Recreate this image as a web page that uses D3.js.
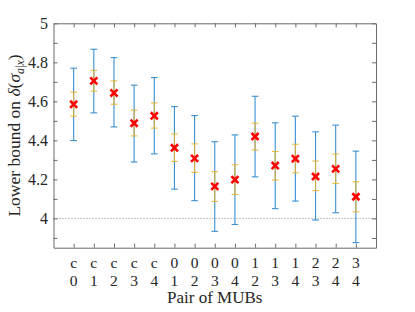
<!DOCTYPE html>
<html>
<head>
<meta charset="utf-8">
<script src="https://cdn.jsdelivr.net/npm/d3@7"></script>
</head>
<body style="margin:0; background:#fff">
<div id="chart"></div>
<script>
// data
const pairTop = ["c", "c", "c", "c", "c", "0", "0", "0", "0", "1", "1", "1", "2", "2", "3"]
const pairBottom = ["0", "1", "2", "3", "4", "1", "2", "3", "4", "2", "3", "4", "3", "4", "4"]
const bound = [4.585, 4.705, 4.643, 4.488, 4.526, 4.362, 4.308, 4.164, 4.199, 4.420, 4.271, 4.306, 4.215, 4.254, 4.111]
const innerLow = [4.524, 4.652, 4.585, 4.423, 4.463, 4.292, 4.236, 4.087, 4.123, 4.350, 4.197, 4.234, 4.143, 4.179, 4.034]
const innerHigh = [4.647, 4.759, 4.705, 4.555, 4.592, 4.433, 4.382, 4.240, 4.275, 4.488, 4.343, 4.380, 4.294, 4.330, 4.188]
const outerLow = [4.399, 4.541, 4.469, 4.289, 4.331, 4.150, 4.091, 3.934, 3.969, 4.213, 4.050, 4.089, 3.992, 4.029, 3.876]
const outerHigh = [4.770, 4.867, 4.824, 4.683, 4.722, 4.573, 4.527, 4.393, 4.428, 4.626, 4.490, 4.524, 4.444, 4.478, 4.345]
const yTicks = [3.9, 4, 4.1, 4.2, 4.3, 4.4, 4.5, 4.6, 4.7, 4.8, 4.9, 5]
const yLabelled = [4, 4.2, 4.4, 4.6, 4.8, 5]
const referenceLine = 4

const dataset = bound.map((v, i) => ({
    idx: i + 1, top: pairTop[i], bottom: pairBottom[i], value: v,
    inLo: innerLow[i], inHi: innerHigh[i], outLo: outerLow[i], outHi: outerHigh[i]
}))

//dimensions
let dimensions = {
    width: 415,
    height: 312,
    margin: {top: 23.3, right: 39, bottom: 64.3, left: 53.5},
}
const innerW = dimensions.width - dimensions.margin.left - dimensions.margin.right
const innerH = dimensions.height - dimensions.margin.top - dimensions.margin.bottom
const serif = "'Liberation Serif'"
const textColor = "#262626"

const svg = d3.select("#chart").append("svg")
    .attr("width", dimensions.width)
    .attr("height", dimensions.height)

//scales
const xScale = d3.scaleLinear().domain([0, 16])
    .range([dimensions.margin.left, dimensions.margin.left + innerW])
const yScale = d3.scaleLinear().domain([3.85, 5])
    .range([dimensions.margin.top + innerH, dimensions.margin.top])

const x0 = xScale.range()[0], x1 = xScale.range()[1]
const y0 = yScale.range()[0], y1 = yScale.range()[1]
const axisColor = "#6b6b6b"

// reference line
svg.append("line")
    .attr("x1", x0).attr("x2", x1)
    .attr("y1", yScale(referenceLine)).attr("y2", yScale(referenceLine))
    .attr("stroke", "#8a8a8a").attr("stroke-width", 1)
    .attr("stroke-dasharray", "1,2")

// axes (ticks pointing inward, box)
const fmt = d => yLabelled.some(t => Math.abs(t - d) < 1e-6) ? String(+d.toFixed(1)) : ""
const leftAxis = svg.append("g")
    .attr("transform", "translate(" + x0 + ",0)")
    .call(d3.axisLeft(yScale).tickValues(yTicks).tickFormat(fmt).tickSizeInner(-4).tickSizeOuter(0).tickPadding(5.5))
const rightAxis = svg.append("g")
    .attr("transform", "translate(" + x1 + ",0)")
    .call(d3.axisRight(yScale).tickValues(yTicks).tickFormat("").tickSizeInner(-4).tickSizeOuter(0))
const bottomAxis = svg.append("g")
    .attr("transform", "translate(0," + y0 + ")")
    .call(d3.axisBottom(xScale).tickValues(dataset.map(d => d.idx)).tickFormat("").tickSizeInner(-4).tickSizeOuter(0))
const topAxis = svg.append("g")
    .attr("transform", "translate(0," + y1 + ")")
    .call(d3.axisTop(xScale).tickValues(dataset.map(d => d.idx)).tickFormat("").tickSizeInner(-4).tickSizeOuter(0))

for (const g of [leftAxis, rightAxis, bottomAxis, topAxis]) {
    g.select(".domain").attr("stroke", axisColor)
    g.selectAll(".tick line").attr("stroke", axisColor)
}
leftAxis.selectAll(".tick text")
    .style("font-family", serif)
    .style("font-size", "16px")
    .attr("fill", textColor)

// two-line category labels
const xLabels = svg.append("g")
xLabels.selectAll("text.top")
    .data(dataset).join("text")
    .attr("class", "top")
    .attr("x", d => xScale(d.idx))
    .attr("y", y0 + 20)
    .attr("text-anchor", "middle")
    .attr("fill", textColor)
    .style("font-family", serif)
    .style("font-size", "15.5px")
    .text(d => d.top)
xLabels.selectAll("text.bottom")
    .data(dataset).join("text")
    .attr("class", "bottom")
    .attr("x", d => xScale(d.idx))
    .attr("y", y0 + 38.5)
    .attr("text-anchor", "middle")
    .attr("fill", textColor)
    .style("font-family", serif)
    .style("font-size", "15.5px")
    .text(d => d.bottom)

// axis titles
svg.append("text")
    .attr("x", (x0 + x1) / 2)
    .attr("y", 303)
    .attr("text-anchor", "middle")
    .attr("fill", textColor)
    .style("font-family", serif)
    .style("font-size", "17px")
    .text("Pair of MUBs")

const yTitle = svg.append("text")
    .attr("transform", "translate(20," + ((y0 + y1) / 2) + ") rotate(-90)")
    .attr("text-anchor", "middle")
    .attr("fill", textColor)
    .style("font-family", serif)
    .style("font-size", "17.5px")
yTitle.append("tspan").text("Lower bound on ")
yTitle.append("tspan").style("font-style", "italic").text("δ")
yTitle.append("tspan").text("(")
yTitle.append("tspan").style("font-style", "italic").text("σ")
yTitle.append("tspan").attr("dy", 4).style("font-size", "12px").style("font-style", "italic").text("a")
yTitle.append("tspan").style("font-size", "12px").text("|")
yTitle.append("tspan").style("font-size", "12px").style("font-style", "italic").text("x")
yTitle.append("tspan").attr("dy", -4).text(")")

// error bars
const cap = 3.3
const bars = svg.append("g")
function drawBars(lo, hi, color, width, opacity) {
    const g = bars.append("g").attr("stroke", color).attr("stroke-width", width).attr("opacity", opacity)
    g.selectAll("line.v").data(dataset).join("line").attr("class", "v")
        .attr("x1", d => xScale(d.idx)).attr("x2", d => xScale(d.idx))
        .attr("y1", d => yScale(lo(d))).attr("y2", d => yScale(hi(d)))
    g.selectAll("line.lo").data(dataset).join("line").attr("class", "lo")
        .attr("x1", d => xScale(d.idx) - cap).attr("x2", d => xScale(d.idx) + cap)
        .attr("y1", d => yScale(lo(d))).attr("y2", d => yScale(lo(d)))
    g.selectAll("line.hi").data(dataset).join("line").attr("class", "hi")
        .attr("x1", d => xScale(d.idx) - cap).attr("x2", d => xScale(d.idx) + cap)
        .attr("y1", d => yScale(hi(d))).attr("y2", d => yScale(hi(d)))
}
drawBars(d => d.outLo, d => d.outHi, "#3a8fd0", 1.1, 1)
drawBars(d => d.inLo, d => d.inHi, "#EDB120", 1.1, 0.85)

// markers
svg.append("g").selectAll("path")
    .data(dataset).join("path")
    .attr("transform", d => "translate(" + xScale(d.idx) + "," + yScale(d.value) + ")")
    .attr("d", d3.symbol(d3.symbolX, 34)())
    .attr("stroke", "#ff0000")
    .attr("stroke-width", 2.6)
    .attr("fill", "none")
</script>
</body>
</html>
